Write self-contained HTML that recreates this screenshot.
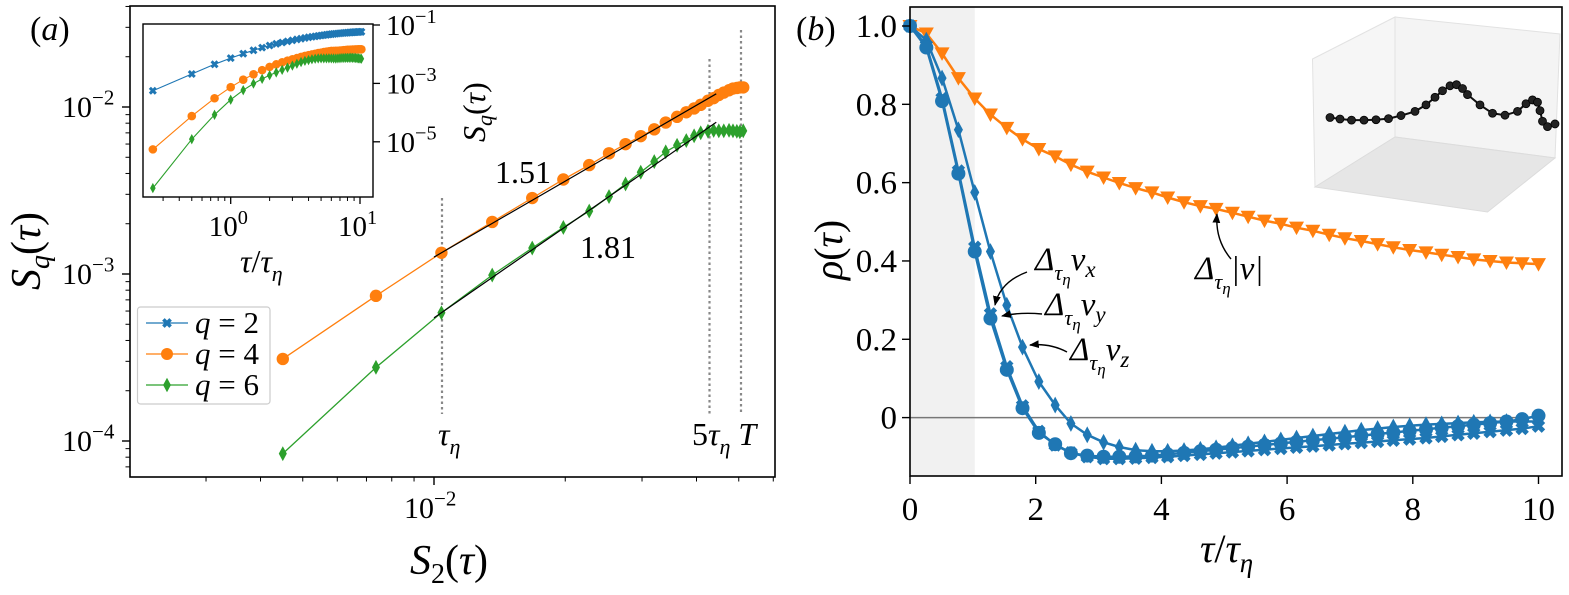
<!DOCTYPE html>
<html><head><meta charset="utf-8">
<style>
html,body{margin:0;padding:0;background:#fff;}
svg{display:block;font-family:"Liberation Serif","DejaVu Serif",serif;}
</style></head>
<body>
<svg id="fig" width="1569" height="595" viewBox="0 0 1569 595" xmlns="http://www.w3.org/2000/svg"></svg>
<script>
// ---------- Panel (a) data ----------
const mainS2 = [4.5e-3,7.36e-3,1.04e-2,1.36e-2,1.68e-2,1.98e-2,2.27e-2,2.52e-2,2.75e-2,2.98e-2,3.2e-2,3.4e-2,3.61e-2,3.79e-2,3.95e-2,4.09e-2,4.25e-2,4.38e-2,4.5e-2,4.62e-2,4.75e-2,4.85e-2,4.95e-2,5.03e-2,5.12e-2];
const mainQ4 = [3.1e-4,7.4e-4,1.34e-3,2.05e-3,2.85e-3,3.68e-3,4.49e-3,5.28e-3,5.99e-3,6.69e-3,7.35e-3,8.07e-3,8.73e-3,9.3e-3,9.8e-3,1.03e-2,1.09e-2,1.13e-2,1.18e-2,1.22e-2,1.26e-2,1.29e-2,1.3e-2,1.31e-2,1.31e-2];
const mainQ6 = [8.4e-5,2.76e-4,5.86e-4,9.85e-4,1.43e-3,1.9e-3,2.38e-3,2.91e-3,3.46e-3,4.07e-3,4.71e-3,5.39e-3,5.9e-3,6.3e-3,6.72e-3,7.0e-3,7.16e-3,7.24e-3,7.2e-3,7.2e-3,7.25e-3,7.2e-3,7.15e-3,7.1e-3,7.2e-3];
const fitRange = [1.0e-2, 4.44e-2];
const fitSlopes = [1.51, 1.81];
const fitAnchorQ4 = [1.04e-2, 1.34e-3];
const fitAnchorQ6 = [1.04e-2, 5.86e-4];
// inset data
const insetTau = [0.25,0.5,0.75,1,1.25,1.5,1.75,2,2.25,2.5,2.75,3,3.25,3.5,3.75,4,4.25,4.5,4.75,5,5.25,5.5,5.75,6,6.25,6.5,6.75,7,7.25,7.5,7.75,8,8.25,8.5,8.75,9,9.25,9.5,9.75,10,10.25];
const insetQ2 = [5.6e-4,2.1e-3,4.5e-3,7.36e-3,1.04e-2,1.36e-2,1.68e-2,1.98e-2,2.27e-2,2.52e-2,2.75e-2,2.98e-2,3.2e-2,3.4e-2,3.61e-2,3.79e-2,3.95e-2,4.09e-2,4.25e-2,4.38e-2,4.5e-2,4.62e-2,4.75e-2,4.85e-2,4.95e-2,5.03e-2,5.12e-2,5.2e-2,5.27e-2,5.34e-2,5.4e-2,5.46e-2,5.52e-2,5.57e-2,5.62e-2,5.67e-2,5.71e-2,5.75e-2,5.79e-2,5.82e-2,5.85e-2];
const insetQ4 = [5.5e-6,7.6e-5,3.1e-4,7.4e-4,1.34e-3,2.05e-3,2.85e-3,3.68e-3,4.49e-3,5.28e-3,5.99e-3,6.69e-3,7.35e-3,8.07e-3,8.73e-3,9.3e-3,9.8e-3,1.03e-2,1.09e-2,1.13e-2,1.18e-2,1.22e-2,1.26e-2,1.29e-2,1.3e-2,1.31e-2,1.31e-2,1.33e-2,1.35e-2,1.37e-2,1.39e-2,1.41e-2,1.42e-2,1.43e-2,1.44e-2,1.45e-2,1.46e-2,1.46e-2,1.47e-2,1.47e-2,1.47e-2];
const insetQ6 = [2.6e-7,1.23e-5,8.4e-5,2.76e-4,5.86e-4,9.85e-4,1.43e-3,1.9e-3,2.38e-3,2.91e-3,3.46e-3,4.07e-3,4.71e-3,5.39e-3,5.9e-3,6.3e-3,6.72e-3,7.0e-3,7.16e-3,7.24e-3,7.2e-3,7.2e-3,7.25e-3,7.2e-3,7.15e-3,7.1e-3,7.2e-3,7.3e-3,7.4e-3,7.4e-3,7.5e-3,7.5e-3,7.5e-3,7.6e-3,7.5e-3,7.5e-3,7.4e-3,7.3e-3,7.2e-3,7.1e-3,7.0e-3];
const mainYTicks = [-2,-3,-4];
const mainXTicks = [-2];
const insetXTicks = [0,1];
const insetYTicks = [-1,-3,-5];
// ---------- Panel (b) data ----------
const tauB = [0,0.26,0.51,0.77,1.03,1.28,1.54,1.79,2.05,2.31,2.56,2.82,3.08,3.33,3.59,3.85,4.10,4.36,4.62,4.87,5.13,5.38,5.64,5.90,6.15,6.41,6.67,6.92,7.18,7.44,7.69,7.95,8.21,8.46,8.72,8.97,9.23,9.49,9.74,10.0];
const rhoAbs = [1.0,0.981,0.93,0.867,0.815,0.774,0.74,0.711,0.686,0.667,0.646,0.628,0.613,0.599,0.586,0.575,0.562,0.55,0.54,0.533,0.523,0.513,0.503,0.495,0.485,0.477,0.467,0.458,0.451,0.443,0.435,0.428,0.422,0.416,0.41,0.404,0.4,0.396,0.394,0.392];
const rhoX = [1.0,0.945,0.808,0.623,0.424,0.253,0.122,0.024,-0.039,-0.068,-0.091,-0.097,-0.1,-0.1,-0.099,-0.097,-0.094,-0.09,-0.086,-0.082,-0.078,-0.074,-0.07,-0.066,-0.062,-0.058,-0.054,-0.05,-0.046,-0.042,-0.038,-0.034,-0.03,-0.026,-0.022,-0.018,-0.014,-0.01,-0.004,0.005];
const rhoY = [1.0,0.95,0.815,0.63,0.435,0.265,0.13,0.03,-0.035,-0.07,-0.09,-0.1,-0.105,-0.105,-0.104,-0.102,-0.1,-0.097,-0.094,-0.091,-0.088,-0.085,-0.082,-0.079,-0.076,-0.073,-0.07,-0.067,-0.064,-0.061,-0.058,-0.055,-0.052,-0.048,-0.044,-0.04,-0.036,-0.032,-0.028,-0.022];
const rhoZ = [1.0,0.964,0.867,0.735,0.575,0.424,0.287,0.18,0.092,0.032,-0.015,-0.044,-0.063,-0.075,-0.083,-0.086,-0.086,-0.084,-0.081,-0.077,-0.072,-0.067,-0.062,-0.057,-0.052,-0.047,-0.042,-0.037,-0.032,-0.028,-0.024,-0.021,-0.018,-0.016,-0.014,-0.012,-0.011,-0.01,-0.01,-0.01];
const bYTicks = [0,0.2,0.4,0.6,0.8,1.0];
const bYLabels = ["0","0.2","0.4","0.6","0.8","1.0"];
const bXTicks = [0,2,4,6,8,10];
const trajX = [1080,1100,1123,1148,1172,1197,1222,1250,1272,1290,1305,1320,1333,1345,1355,1380,1405,1430,1455,1472,1485,1495,1500,1505,1515,1530];
const trajY = [308,312,315,315,314,311,303,292,275,255,238,225,222,232,248,275,297,302,292,272,262,268,290,318,332,325];

const NS = "http://www.w3.org/2000/svg";
const svg = document.getElementById('fig');
function mk(tag, attrs, parent){ const e=document.createElementNS(NS,tag); for(const k in attrs) e.setAttribute(k,attrs[k]); if(tag==='text') e.setAttribute('font-family','"Liberation Serif","DejaVu Serif",serif'); (parent||svg).appendChild(e); return e; }
const BLUE="#1f77b4", ORANGE="#ff7f0e", GREEN="#2ca02c";

function marker(type, x, y, r, color, parent){
  let e;
  if(type==='o'){ e=mk('circle',{cx:x,cy:y,r:r,fill:color},parent); }
  else if(type==='d'){ e=mk('polygon',{points:`${x},${y-r*1.2} ${x+r*0.65},${y} ${x},${y+r*1.2} ${x-r*0.65},${y}`,fill:color},parent); }
  else if(type==='v'){ e=mk('polygon',{points:`${x-r},${y-r*0.8} ${x+r},${y-r*0.8} ${x},${y+r}`,fill:color},parent); }
  else if(type==='X'){ const a=r*0.9; e=mk('path',{d:`M${x-a},${y-a}L${x+a},${y+a}M${x-a},${y+a}L${x+a},${y-a}`,stroke:color,'stroke-width':r*0.9,fill:'none'},parent); }
  return e;
}
function sup(parent, x, y, base, exp, size, anchor){
  const t=mk('text',{x:x,y:y,'font-size':size,'text-anchor':anchor||'start',fill:'#000'},parent);
  t.appendChild(document.createTextNode(base));
  const s=mk('tspan',{dy:-size*0.42,'font-size':size*0.7},t);
  s.textContent=exp;
  return t;
}

// ================= PANEL A =================
const ga = mk('g',{});


const ax = v => 434 + (Math.log10(v)+2)*436;
const ay = v => 107 - (Math.log10(v)+2)*167;
const A = {l:130,r:775,t:6,b:477};

[[442,198],[709.5,59],[741,30]].forEach(d=>{
  const l=mk('line',{x1:d[0],x2:d[0],y1:d[1],y2:414,stroke:'#888','stroke-width':2.2,'stroke-dasharray':'2.5,3'},ga);
  
  
});

function drawSeries(xs, ys, fx, fy, color, mtype, r, lw, parent, name){
  const g=mk('g',{},parent);
  
  
  const pts=xs.map((x,i)=>fx(x).toFixed(1)+','+fy(ys[i]).toFixed(1)).join(' ');
  mk('polyline',{points:pts,fill:'none',stroke:color,'stroke-width':lw},g);
  xs.forEach((x,i)=>{
    const m=marker(mtype,fx(x),fy(ys[i]),r,color,g);
    
    
  });
  return g;
}
drawSeries(mainS2, mainQ4, ax, ay, ORANGE, 'o', 6.2, 1.3, ga, 'series-q4');
drawSeries(mainS2, mainQ6, ax, ay, GREEN, 'd', 6.2, 1.3, ga, 'series-q6');

[[fitAnchorQ4,fitSlopes[0],'fit-line-q4'],[fitAnchorQ6,fitSlopes[1],'fit-line-q6']].forEach(f=>{
  const [a,s,n]=f;
  const y0=a[1]*Math.pow(fitRange[0]/a[0],s), y1=a[1]*Math.pow(fitRange[1]/a[0],s);
  const l=mk('line',{x1:ax(fitRange[0]),y1:ay(y0),x2:ax(fitRange[1]),y2:ay(y1),stroke:'#000','stroke-width':1.2},ga);
  
  
});

const fa=mk('rect',{x:A.l,y:A.t,width:A.r-A.l,height:A.b-A.t,fill:'none',stroke:'#000','stroke-width':1.6},ga);


for(let e=-5;e<=-1;e++){ for(let m=1;m<10;m++){ const v=m*Math.pow(10,e); const y=ay(v); if(y<A.t||y>A.b) continue;
  mk('line',{x1:A.l-(m===1?8:4.5),x2:A.l,y1:y,y2:y,stroke:'#000','stroke-width':m===1?1.4:1},ga);}}
mainYTicks.forEach(e=>{ const t=sup(ga,62,ay(Math.pow(10,e))+10,'10','−'+(-e),30);   });
for(let e=-3;e<=-1;e++){ for(let m=1;m<10;m++){ const v=m*Math.pow(10,e); const x=ax(v); if(x<A.l||x>A.r) continue;
  mk('line',{x1:x,x2:x,y1:A.b,y2:A.b+(m===1?8:4.5),stroke:'#000','stroke-width':m===1?1.4:1},ga);}}
mainXTicks.forEach(e=>{ const t=sup(ga,ax(Math.pow(10,e))-30,518,'10','−'+(-e),30);   });

const xla=mk('text',{x:410,y:574,'font-size':42},ga);
xla.innerHTML='<tspan font-style="italic">S</tspan><tspan font-size="28" dy="9">2</tspan><tspan dy="-9">(</tspan><tspan font-style="italic">τ</tspan>)';


const yla=mk('text',{x:0,y:0,'font-size':42,transform:'translate(40,290) rotate(-90)'},ga);
yla.innerHTML='<tspan font-style="italic">S</tspan><tspan font-size="28" dy="9" font-style="italic">q</tspan><tspan dy="-9">(</tspan><tspan font-style="italic">τ</tspan>)';


const pa=mk('text',{x:30,y:40,'font-size':34},ga);
pa.innerHTML='(<tspan font-style="italic">a</tspan>)';



function ann(x,y,html,size,name,parent){ const t=mk('text',{x:x,y:y,'font-size':size},parent); t.innerHTML=html;   return t;}
ann(495,183,'1.51',32,'slope-label-q4',ga);
ann(580,258,'1.81',32,'slope-label-q6',ga);
ann(438,445,'<tspan font-style="italic">τ</tspan><tspan font-size="22" dy="9" font-style="italic">η</tspan>',32,'tau-eta-label',ga);
ann(692,445,'5<tspan font-style="italic">τ</tspan><tspan font-size="22" dy="9" font-style="italic">η</tspan><tspan dy="-9" font-style="italic"> T</tspan>',32,'five-tau-eta-T-label',ga);

const lg=mk('g',{},ga);


mk('rect',{x:137.5,y:307,width:132.5,height:97,rx:3,fill:'#fff',stroke:'#ccc','stroke-width':1.2},lg);
[[BLUE,'X','2',323],[ORANGE,'o','4',354],[GREEN,'d','6',385]].forEach(d=>{
  const e=mk('g',{},lg);
  
  
  mk('line',{x1:146,x2:188,y1:d[3],y2:d[3],stroke:d[0],'stroke-width':1.3},e);
  marker(d[1],167,d[3],d[1]==='X'?4:6,d[0],e);
  const t=mk('text',{x:195,y:d[3]+10,'font-size':31},e);
  t.innerHTML='<tspan font-style="italic">q</tspan> = '+d[2];
});

const gi=mk('g',{},ga);


const I={l:143,r:373,t:24,b:197};
const ix = v => 230.7 + Math.log10(v)*129.3;
const iy = v => 25 - (Math.log10(v)+1)*29.2;
mk('rect',{x:I.l,y:I.t,width:I.r-I.l,height:I.b-I.t,fill:'#fff',stroke:'#000','stroke-width':1.4},gi);
drawSeries(insetTau, insetQ2, ix, iy, BLUE, 'X', 3.3, 1.1, gi, 'inset-series-q2');
drawSeries(insetTau, insetQ4, ix, iy, ORANGE, 'o', 4.3, 1.1, gi, 'inset-series-q4');
drawSeries(insetTau, insetQ6, ix, iy, GREEN, 'd', 4.3, 1.1, gi, 'inset-series-q6');
for(let e=-1;e<=1;e++){ for(let m=1;m<10;m++){ const v=m*Math.pow(10,e); const x=ix(v); if(x<I.l||x>I.r) continue;
  mk('line',{x1:x,x2:x,y1:I.b,y2:I.b+(m===1?7:4),stroke:'#000','stroke-width':m===1?1.3:1},gi);}}
insetXTicks.forEach(e=>{ const t=sup(gi,ix(Math.pow(10,e))-22,236,'10',String(e),29);   });
insetYTicks.forEach(e=>{ const y=iy(Math.pow(10,e)); mk('line',{x1:I.r,x2:I.r+7,y1:y,y2:y,stroke:'#000','stroke-width':1.3},gi);
  const t=sup(gi,I.r+13,y+10,'10','−'+(-e),29);   });
const ixl=mk('text',{x:240,y:272,'font-size':32},gi);
ixl.innerHTML='<tspan font-style="italic">τ</tspan>/<tspan font-style="italic">τ</tspan><tspan font-size="22" dy="9" font-style="italic">η</tspan>';


const iyl=mk('text',{x:0,y:0,'font-size':32,transform:'translate(485,142) rotate(-90)'},gi);
iyl.innerHTML='<tspan font-style="italic">S</tspan><tspan font-size="22" dy="7" font-style="italic">q</tspan><tspan dy="-7">(</tspan><tspan font-style="italic">τ</tspan>)';



// ================= PANEL B =================
const gb=mk('g',{});


const B={l:910,r:1562,t:7,b:476};
const bx = t => 910 + t*62.85;
const by = r => 417.6 - r*391.6;
const shade=mk('rect',{x:B.l,y:B.t,width:bx(1.03)-B.l,height:B.b-B.t,fill:'#ebebeb','fill-opacity':0.7},gb);


const zl=mk('line',{x1:B.l,x2:bx(10),y1:by(0),y2:by(0),stroke:'#777','stroke-width':1.5},gb);



const g3=mk('g',{},gb);


mk('polygon',{points:'1312.5,59 1395,17 1395,137 1315,187',fill:'#f6f6f6',stroke:'#e2e2e2','stroke-width':1},g3);
mk('polygon',{points:'1395,17 1560,34 1555,158 1395,137',fill:'#f4f4f4',stroke:'#e2e2e2','stroke-width':1},g3);
mk('polygon',{points:'1315,187 1395,137 1555,158 1487.5,212',fill:'#e6e6e6',stroke:'#dcdcdc','stroke-width':1},g3);
const tx=trajX.map(v=>v/2+790), ty=trajY.map(v=>v/2.622);
mk('polyline',{points:tx.map((x,i)=>x+','+ty[i].toFixed(1)).join(' '),fill:'none',stroke:'#111','stroke-width':2},g3);
tx.forEach((x,i)=>{ const c=mk('circle',{cx:x,cy:ty[i],r:4,fill:'#222',stroke:'#000','stroke-width':0.8},g3);
  
   });

drawSeries(tauB, rhoAbs, bx, by, ORANGE, 'v', 7.5, 2.5, gb, 'series-abs-v');
drawSeries(tauB, rhoZ, bx, by, BLUE, 'd', 7, 2.5, gb, 'series-vz');
drawSeries(tauB, rhoY, bx, by, BLUE, 'X', 5.5, 2.5, gb, 'series-vy');
drawSeries(tauB, rhoX, bx, by, BLUE, 'o', 7, 2.5, gb, 'series-vx');

const fb=mk('rect',{x:B.l,y:B.t,width:B.r-B.l,height:B.b-B.t,fill:'none',stroke:'#000','stroke-width':1.6},gb);


bYTicks.forEach((v,i)=>{ const y=by(v); mk('line',{x1:B.l-8,x2:B.l,y1:y,y2:y,stroke:'#000','stroke-width':1.4},gb);
  const t=mk('text',{x:B.l-13,y:y+11,'font-size':33,'text-anchor':'end'},gb); t.textContent=bYLabels[i];
    });
bXTicks.forEach(v=>{ const x=bx(v); mk('line',{x1:x,x2:x,y1:B.b,y2:B.b+8,stroke:'#000','stroke-width':1.4},gb);
  const t=mk('text',{x:x,y:520,'font-size':33,'text-anchor':'middle'},gb); t.textContent=String(v);
    });
const xlb=mk('text',{x:1200,y:562,'font-size':40},gb);
xlb.innerHTML='<tspan font-style="italic">τ</tspan>/<tspan font-style="italic">τ</tspan><tspan font-size="27" dy="10" font-style="italic">η</tspan>';


const ylb=mk('text',{x:0,y:0,'font-size':40,transform:'translate(842,280) rotate(-90)'},gb);
ylb.innerHTML='<tspan font-style="italic">ρ</tspan>(<tspan font-style="italic">τ</tspan>)';


const pb=mk('text',{x:796,y:40,'font-size':34},gb);
pb.innerHTML='(<tspan font-style="italic">b</tspan>)';



const defs=mk('defs',{});
const mkr=mk('marker',{id:'ah',viewBox:'0 0 10 10',refX:9,refY:5,markerWidth:7,markerHeight:7,orient:'auto'},defs);
mk('path',{d:'M0,1 L10,5 L0,9 z',fill:'#000'},mkr);
function arrow(d,name){ const p=mk('path',{d:d,fill:'none',stroke:'#000','stroke-width':1.4,'marker-end':'url(#ah)'},gb);   }
arrow('M1027,272 Q1000,282 995,305','arrow-vx');
arrow('M1042,314 Q1020,312 1002,316','arrow-vy');
arrow('M1067,352 Q1050,343 1030,345','arrow-vz');
arrow('M1231,259 Q1215,240 1217,214','arrow-abs-v');
const lab=(x,y,sub,name)=>ann(x,y,'<tspan font-style="italic">Δ</tspan><tspan font-size="22" dy="10" font-style="italic">τ</tspan><tspan font-size="17" dy="5" font-style="italic">η</tspan><tspan dy="-15" font-style="italic">'+sub+'</tspan>',33,name,gb);
const l1=lab(1035,270,'v','label-vx'); const s1=mk('tspan',{'font-size':23,dy:7,'font-style':'italic'},l1); s1.textContent='x';
const l2=lab(1045,315,'v','label-vy'); const s2=mk('tspan',{'font-size':23,dy:7,'font-style':'italic'},l2); s2.textContent='y';
const l3=lab(1070,360,'v','label-vz'); const s3=mk('tspan',{'font-size':23,dy:7,'font-style':'italic'},l3); s3.textContent='z';
lab(1195,279,'|v|','label-abs-v');
</script>
</body></html>
